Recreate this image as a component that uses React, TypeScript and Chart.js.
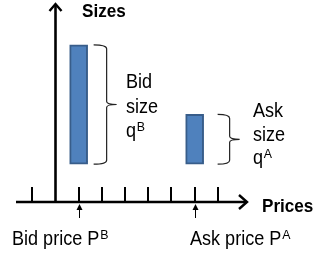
import React, { useEffect, useRef } from "react";
import { Chart, registerables } from "chart.js";

Chart.register(...registerables);

// ---- data ----
const priceTicks = [0, 1, 2, 3, 4, 5, 6, 7, 8];
const sides = ["Bid", "Ask"];
const pricePositions = [2, 7];
const sizeBases = [1.9, 1.9];
const sizeTops = [7.9, 4.4];
const sizeAxisAt = 1;
const xMin = -0.7;
const xMax = 9.3;
const yMin = 0;
const yMax = 10;
const axisTitles = ["Sizes", "Prices"];
const sizeLabels = [["Bid", "size", "q", "B"], ["Ask", "size", "q", "A"]];
const priceLabels = [["Bid price P", "B"], ["Ask price P", "A"]];

const FONT = "'Liberation Sans', Arial, sans-serif";
const SX = 0.86;

function condText(ctx: CanvasRenderingContext2D, text: string, x: number, y: number, font: string, sx: number) {
  ctx.font = font;
  ctx.save();
  ctx.translate(x, y);
  ctx.scale(sx, 1);
  ctx.fillText(text, 0, 0);
  ctx.restore();
  return ctx.measureText(text).width * sx;
}

function supText(ctx: CanvasRenderingContext2D, main: string, sup: string, x: number, y: number, size: number) {
  const w = condText(ctx, main, x, y, `${size}px ${FONT}`, SX);
  condText(ctx, sup, x + w + 0.8, y - 6.2, `${Math.round(size * 0.6)}px ${FONT}`, 0.95);
}

const diagramPlugin = {
  id: "diagram",
  afterDatasetsDraw(chart: any) {
    const ctx: CanvasRenderingContext2D = chart.ctx;
    const xs = chart.scales.x;
    const ys = chart.scales.y;
    const y0 = ys.getPixelForValue(yMin);
    const yT = ys.getPixelForValue(yMax);
    const xL = xs.getPixelForValue(xMin);
    const xR = xs.getPixelForValue(xMax);
    const xa = Math.round(xs.getPixelForValue(sizeAxisAt)) + 0.5;
    ctx.save();
    ctx.strokeStyle = "#000";
    ctx.fillStyle = "#000";

    // x axis
    ctx.lineWidth = 2.6;
    ctx.beginPath();
    ctx.moveTo(xL, y0);
    ctx.lineTo(xR - 1.5, y0);
    ctx.stroke();
    ctx.lineWidth = 2.4;
    ctx.beginPath();
    ctx.moveTo(xR - 9, y0 - 7);
    ctx.lineTo(xR - 1, y0);
    ctx.lineTo(xR - 9, y0 + 7);
    ctx.stroke();

    // y axis
    ctx.lineWidth = 2.6;
    ctx.beginPath();
    ctx.moveTo(xa, y0);
    ctx.lineTo(xa, yT + 1.5);
    ctx.stroke();
    ctx.lineWidth = 2.4;
    ctx.beginPath();
    ctx.moveTo(xa - 6, yT + 8);
    ctx.lineTo(xa, yT + 1);
    ctx.lineTo(xa + 6, yT + 8);
    ctx.stroke();

    // tick marks (upward)
    ctx.lineWidth = 2;
    priceTicks.forEach((t) => {
      if (t === sizeAxisAt) return;
      const x = Math.round(xs.getPixelForValue(t));
      ctx.beginPath();
      ctx.moveTo(x, y0);
      ctx.lineTo(x, y0 - 15);
      ctx.stroke();
    });

    // small arrows below axis at bid/ask prices
    pricePositions.forEach((p) => {
      const x = Math.round(xs.getPixelForValue(p)) + 0.5;
      ctx.lineWidth = 1;
      ctx.beginPath();
      ctx.moveTo(x, y0 + 16);
      ctx.lineTo(x, y0 + 7);
      ctx.stroke();
      ctx.beginPath();
      ctx.moveTo(x, y0 + 2);
      ctx.lineTo(x - 3, y0 + 8);
      ctx.lineTo(x + 3, y0 + 8);
      ctx.closePath();
      ctx.fill();
    });

    // braces
    const braceGap = [6, 14];
    const braceW = [13, 12];
    ctx.strokeStyle = "#222";
    ctx.lineWidth = 1.2;
    pricePositions.forEach((p, i) => {
      const xr = xs.getPixelForValue(p) + 9;
      const yt = ys.getPixelForValue(sizeTops[i]);
      const yb = ys.getPixelForValue(sizeBases[i]);
      const ym = (yt + yb) / 2;
      const L = xr + braceGap[i];
      const V = L + braceW[i];
      ctx.beginPath();
      ctx.moveTo(L, yt);
      ctx.quadraticCurveTo(V, yt, V, yt + 4);
      ctx.lineTo(V, ym - 3);
      ctx.quadraticCurveTo(V, ym, V + 10, ym);
      ctx.quadraticCurveTo(V, ym, V, ym + 3);
      ctx.lineTo(V, yb - 4);
      ctx.quadraticCurveTo(V, yb, L, yb);
      ctx.stroke();
    });

    // text
    ctx.fillStyle = "#000";
    ctx.textBaseline = "alphabetic";
    ctx.textAlign = "left";
    condText(ctx, axisTitles[0], 82, 17, `bold 19px ${FONT}`, 0.9);
    condText(ctx, axisTitles[1], 262, 212, `bold 19px ${FONT}`, 0.9);

    const blockPos = [[126, 88, 24.5], [253, 117, 23.5]];
    sizeLabels.forEach((lab, i) => {
      const [bx, by, lh] = blockPos[i];
      const f = `21px ${FONT}`;
      condText(ctx, lab[0], bx, by, f, SX);
      condText(ctx, lab[1], bx, by + lh, f, SX);
      supText(ctx, lab[2], lab[3], bx, by + 2 * lh, 21);
    });

    const labPos = [[12, 245], [190, 245]];
    priceLabels.forEach((lab, i) => {
      supText(ctx, lab[0], lab[1], labPos[i][0], labPos[i][1], 21);
    });
    ctx.restore();
  },
};

export default function App() {
  const ref = useRef<HTMLCanvasElement | null>(null);
  useEffect(() => {
    if (!ref.current) return;
    const chart = new Chart(ref.current, {
      type: "bar",
      data: {
        datasets: [
          {
            label: "Size",
            data: pricePositions.map((p, i) => ({ x: p, y: [sizeBases[i], sizeTops[i]] })) as any,
            backgroundColor: "#4F81BD",
            borderColor: "#385D8A",
            borderWidth: 2,
            borderSkipped: false,
            barThickness: 18,
          },
        ],
      },
      options: {
        responsive: false,
        animation: false,
        layout: { padding: { left: 16, right: 67, top: 3, bottom: 56 } },
        scales: {
          x: { type: "linear", min: xMin, max: xMax, offset: false, display: false },
          y: { type: "linear", min: yMin, max: yMax, display: false },
        },
        plugins: { legend: { display: false }, tooltip: { enabled: false } },
      },
      plugins: [diagramPlugin],
    });
    return () => chart.destroy();
  }, []);
  return (
    <div style={{ position: "absolute", left: 0, top: 0, width: 315, height: 258, background: "#fff" }}>
      <canvas ref={ref} width={315} height={258} />
    </div>
  );
}
